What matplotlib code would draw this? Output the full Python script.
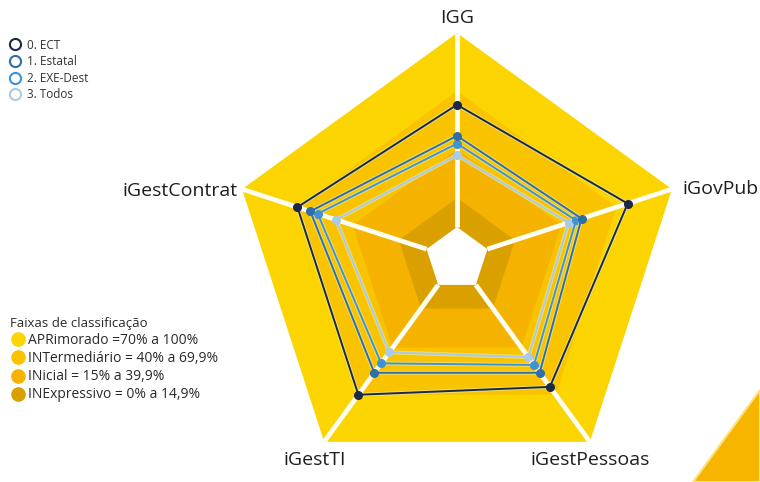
import numpy as np
import matplotlib.pyplot as plt
import matplotlib.patheffects as pe
from matplotlib.lines import Line2D
from matplotlib.patches import Polygon

plt.rcParams['font.family'] = ['Open Sans', 'DejaVu Sans']

# Indicators (clockwise from the top)
indicadores = ['IGG', 'iGovPub', 'iGestPessoas', 'iGestTI', 'iGestContrat']

# Index values (%) per group
ect = [63, 76, 65, 70, 70]
estatal = [47, 51, 56, 56, 63]
exe_dest = [43, 48, 51, 50, 59]
todos = [37, 44, 46, 43, 49]

series_nomes = ['0. ECT', '1. Estatal', '2. EXE-Dest', '3. Todos']
series_valores = [ect, estatal, exe_dest, todos]

# Classification bands (upper limit of each band, %)
faixas_nomes = ['APRimorado =70% a 100%', 'INTermediário = 40% a 69,9%',
                'INicial = 15% a 39,9%', 'INExpressivo = 0% a 14,9%']
faixas_limites = [100, 70, 40, 15]

# Styling
serie_cores = ['#1b2846', '#2f6fa9', '#3f93d3', '#a9cbe8']
faixa_cores = ['#fcd400', '#f9c300', '#f5b300', '#d9a000']

fig = plt.figure(figsize=(7.6, 4.82), dpi=100)
fig.patch.set_facecolor('white')

cx, cy, R = 457, 259, 226
W, H = 760, 482
ax = fig.add_axes([(cx - R) / W, (H - cy - R) / H, 2 * R / W, 2 * R / H],
                  projection='polar')
ax.set_theta_offset(np.pi / 2)
ax.set_theta_direction(-1)
ax.set_ylim(0, 100)
ax.set_rorigin(-16.5)   # leaves an empty core in the middle of the radar
ax.set_axis_off()

n = len(indicadores)
ang = np.linspace(0, 2 * np.pi, n, endpoint=False)
ang_c = np.append(ang, ang[0])

# Concentric pentagon bands
for lim, cor in zip(faixas_limites, faixa_cores):
    ax.fill(ang_c, [lim] * (n + 1), color=cor, lw=0, zorder=1, clip_on=False)
# Pentagonal core at r = 0
ax.fill(ang_c, [0] * (n + 1), color='white', lw=0, zorder=2, clip_on=False)

# White spokes
for a in ang:
    ax.plot([a, a], [0, 100], color='#fffef2', lw=3.4,
            solid_capstyle='butt', zorder=3, clip_on=False)

# Series polygons
halo = [pe.Stroke(linewidth=2.8, foreground='#e9f2c8', alpha=0.55),
        pe.Normal()]
for vals, cor, z in zip(series_valores[::-1], serie_cores[::-1], [4, 5, 6, 7]):
    v = list(vals) + [vals[0]]
    ax.plot(ang_c, v, color=cor, lw=1.4, zorder=z, path_effects=halo,
            clip_on=False)
    ax.plot(ang, vals, 'o', color=cor, ms=5.5, zorder=z + 0.5, clip_on=False)

# Axis labels, offset (in pixels) from each outer vertex
px = 72 / fig.dpi
lab_pos = {
    'IGG': ((0, 15), 'center', 'center'),
    'iGovPub': ((11, 0), 'left', 'center'),
    'iGestPessoas': ((0, -18), 'center', 'center'),
    'iGestTI': ((-9, -18), 'center', 'center'),
    'iGestContrat': ((-4, -2), 'right', 'center'),
}
for a, (nome, (off, ha, va)) in zip(ang, lab_pos.items()):
    ax.annotate(nome, xy=(a, 100), xytext=(off[0] * px, off[1] * px),
                textcoords='offset points', ha=ha, va=va, fontsize=14,
                color='#1e1e1e', annotation_clip=False, zorder=10)

# Series legend
h1 = [Line2D([], [], ls='none', marker='o', ms=8, mfc='white',
             mec=c, mew=1.5) for c in serie_cores]
leg1 = fig.legend(h1, series_nomes, loc='upper left',
                  bbox_to_anchor=(0.0, 0.937), frameon=False, fontsize=8.5,
                  handletextpad=0.35, labelspacing=0.3, handlelength=1.2,
                  borderaxespad=0.3)
for t in leg1.get_texts():
    t.set_color('#333333')

# Band legend
h2 = [Line2D([], [], ls='none', marker='o', ms=9.5, mfc=c, mec=c)
      for c in faixa_cores]
leg2 = fig.legend(h2, faixas_nomes, loc='upper left',
                  bbox_to_anchor=(0.0, 0.362), frameon=False, fontsize=10,
                  title='Faixas de classificação', title_fontsize=9.5,
                  alignment='left', handletextpad=0.15, labelspacing=0.22,
                  handlelength=1.2, borderaxespad=0.3)
for t in leg2.get_texts():
    t.set_color('#2a2a2a')
leg2.get_title().set_color('#2a2a2a')

# Corner accent
fig.add_artist(Polygon([[693 / W, 0], [1, 0], [1, (H - 390) / H]],
                       closed=True, transform=fig.transFigure,
                       facecolor='#f7b500', edgecolor='#fde27a', lw=1.5,
                       zorder=0))

fig.savefig('out.png', dpi=100, facecolor='white')
